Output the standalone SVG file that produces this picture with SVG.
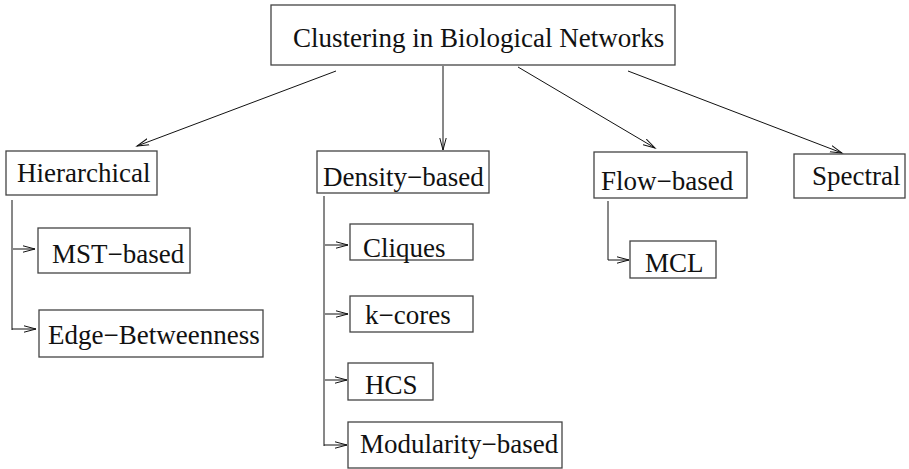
<svg xmlns="http://www.w3.org/2000/svg" width="909" height="469" viewBox="0 0 909 469">
<defs>
<style>
.box{fill:#fff;stroke:#444;stroke-width:1.3}
.t{font-family:"Liberation Serif","Times New Roman",serif;font-size:27px;fill:#111}
.c{fill:none;stroke:#111;stroke-width:1}
</style>
<marker id="ah" markerUnits="userSpaceOnUse" markerWidth="14" markerHeight="10" refX="12" refY="4" orient="auto" viewBox="0 0 14 8">
<path d="M0,0.8 L12,4 L0,7.2" fill="none" stroke="#111" stroke-width="1"/>
</marker>
</defs>
<rect width="909" height="469" fill="#fff"/>
<g id="connectors">
<line class="c" x1="336" y1="71" x2="137" y2="146" marker-end="url(#ah)"/>
<line class="c" x1="443" y1="66" x2="443" y2="150" marker-end="url(#ah)"/>
<line class="c" x1="518" y1="67" x2="655" y2="148" marker-end="url(#ah)"/>
<line class="c" x1="628" y1="71" x2="842" y2="153" marker-end="url(#ah)"/>
<line class="c" x1="12" y1="200" x2="12" y2="330"/>
<line class="c" x1="13" y1="249" x2="35" y2="249" marker-end="url(#ah)"/>
<line class="c" x1="12" y1="329" x2="36" y2="329" marker-end="url(#ah)"/>
<line class="c" x1="324" y1="196" x2="324" y2="446"/>
<line class="c" x1="325" y1="245" x2="348" y2="245" marker-end="url(#ah)"/>
<line class="c" x1="325" y1="314" x2="348" y2="314" marker-end="url(#ah)"/>
<line class="c" x1="325" y1="380" x2="347" y2="380" marker-end="url(#ah)"/>
<line class="c" x1="324" y1="445" x2="347" y2="445" marker-end="url(#ah)"/>
<polyline class="c" points="608,201 608,260 629,260" marker-end="url(#ah)"/>
</g>
<g id="root"><rect class="box" x="271" y="5" width="404" height="60" stroke="#222"/><text class="t" x="293" y="47">Clustering in Biological Networks</text></g>
<g id="hierarchical"><rect class="box" x="6" y="151" width="151" height="44"/><text class="t" x="17" y="182">Hierarchical</text></g>
<g id="density"><rect class="box" x="317" y="151" width="172" height="42"/><text class="t" x="323" y="186">Density−based</text></g>
<g id="flow"><rect class="box" x="594" y="152" width="153" height="46"/><text class="t" x="601" y="190">Flow−based</text></g>
<g id="spectral"><rect class="box" x="794" y="154" width="111" height="44"/><text class="t" x="812" y="185">Spectral</text></g>
<g id="mst"><rect class="box" x="38" y="228" width="152" height="45"/><text class="t" x="52" y="263">MST−based</text></g>
<g id="edgeb"><rect class="box" x="39" y="310" width="224" height="47"/><text class="t" x="48" y="344">Edge−Betweenness</text></g>
<g id="cliques"><rect class="box" x="350" y="224" width="123" height="36"/><text class="t" x="363" y="257">Cliques</text></g>
<g id="kcores"><rect class="box" x="350" y="296" width="123" height="36"/><text class="t" x="365" y="324">k−cores</text></g>
<g id="hcs"><rect class="box" x="348" y="363" width="85" height="37"/><text class="t" x="365" y="394">HCS</text></g>
<g id="modularity"><rect class="box" x="348" y="422" width="214" height="46"/><text class="t" x="360" y="453">Modularity−based</text></g>
<g id="mcl"><rect class="box" x="630" y="241" width="86" height="37"/><text class="t" x="645" y="272">MCL</text></g>
</svg>
